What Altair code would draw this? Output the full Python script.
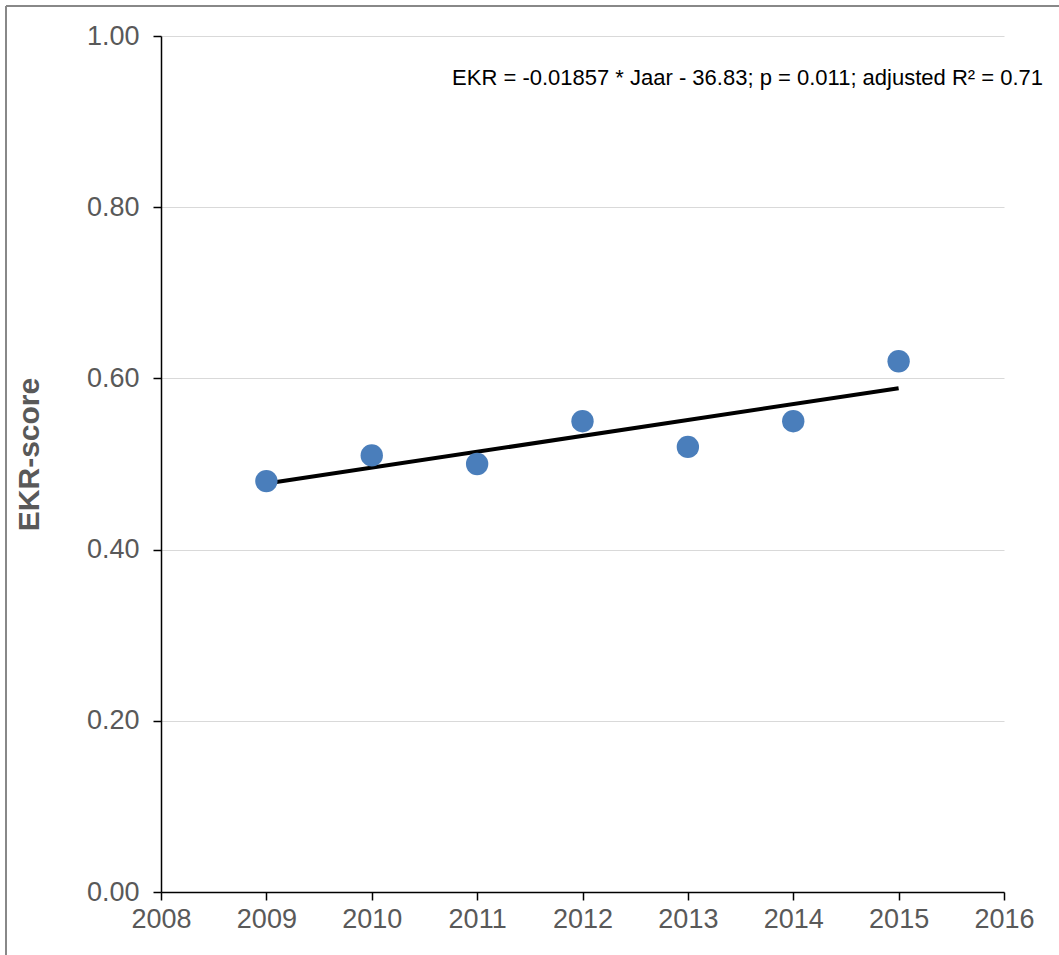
import altair as alt
import pandas as pd

# EKR-score per year
years = [2009, 2010, 2011, 2012, 2013, 2014, 2015]
scores = [0.48, 0.51, 0.50, 0.55, 0.52, 0.55, 0.62]

x_ticks = [2008, 2009, 2010, 2011, 2012, 2013, 2014, 2015, 2016]
y_ticks = [0.0, 0.2, 0.4, 0.6, 0.8, 1.0]

annotation = "EKR = -0.01857 * Jaar - 36.83; p = 0.011; adjusted  R\u00b2 = 0.71"

df = pd.DataFrame({"Jaar": years, "EKR": scores})

FONT = "Liberation Sans"
GRAY = "#595959"

x_enc = alt.X(
    "Jaar:Q",
    scale=alt.Scale(domain=[2008, 2016], nice=False, zero=False),
    axis=alt.Axis(
        values=x_ticks, format="d", title=None, grid=False,
        domainColor="#000000", domainWidth=1.5,
        tickColor="#000000", tickSize=8, tickWidth=1.5,
        labelFont=FONT, labelFontSize=27, labelColor=GRAY, labelPadding=6,
        labelFlush=False, labelOverlap=False, labelBound=False,
    ),
)
y_enc = alt.Y(
    "EKR:Q",
    scale=alt.Scale(domain=[0, 1], nice=False),
    axis=alt.Axis(
        values=y_ticks, format=".2f", title="EKR-score",
        grid=True, gridColor="#d9d9d9", gridWidth=1,
        domainColor="#000000", domainWidth=1.5,
        tickColor="#000000", tickSize=8, tickWidth=1.5,
        labelFont=FONT, labelFontSize=27, labelColor=GRAY, labelPadding=14,
        labelFlush=False, labelOverlap=False,
        titleFont=FONT, titleFontSize=30, titleFontWeight="bold", titleColor=GRAY,
        titleAngle=270, titleX=-132, titleY=418, titleAlign="center",
        titleBaseline="middle",
    ),
)

base = alt.Chart(df)

points = base.mark_circle(size=500, color="#4a7ebb", opacity=1).encode(x=x_enc, y=y_enc)

trend = base.transform_regression(
    "Jaar", "EKR", extent=[2009, 2015]
).mark_line(color="#000000", strokeWidth=4).encode(x="Jaar:Q", y="EKR:Q")

label = alt.Chart(pd.DataFrame({"t": [annotation]})).mark_text(
    font=FONT, fontSize=22, color="#000000", align="right", baseline="middle"
).encode(x=alt.value(882), y=alt.value(42), text="t:N")

# outer frame (top and left edges)
frame_top = alt.Chart(pd.DataFrame({"k": [0]})).mark_rule(
    color="#888888", strokeWidth=2
).encode(x=alt.value(-155), x2=alt.value(900), y=alt.value(-30))
frame_left = alt.Chart(pd.DataFrame({"k": [0]})).mark_rule(
    color="#888888", strokeWidth=2
).encode(x=alt.value(-155), y=alt.value(-30), y2=alt.value(925))

chart = alt.layer(frame_top, frame_left, trend, points, label).properties(
    width=843,
    height=856,
    padding={"left": 161, "top": 36, "right": 55, "bottom": 63},
    autosize=alt.AutoSizeParams(type="none"),
    background="#ffffff",
).configure_view(stroke=None)

chart.save("out.html", embed_options={"renderer": "svg", "actions": False})
